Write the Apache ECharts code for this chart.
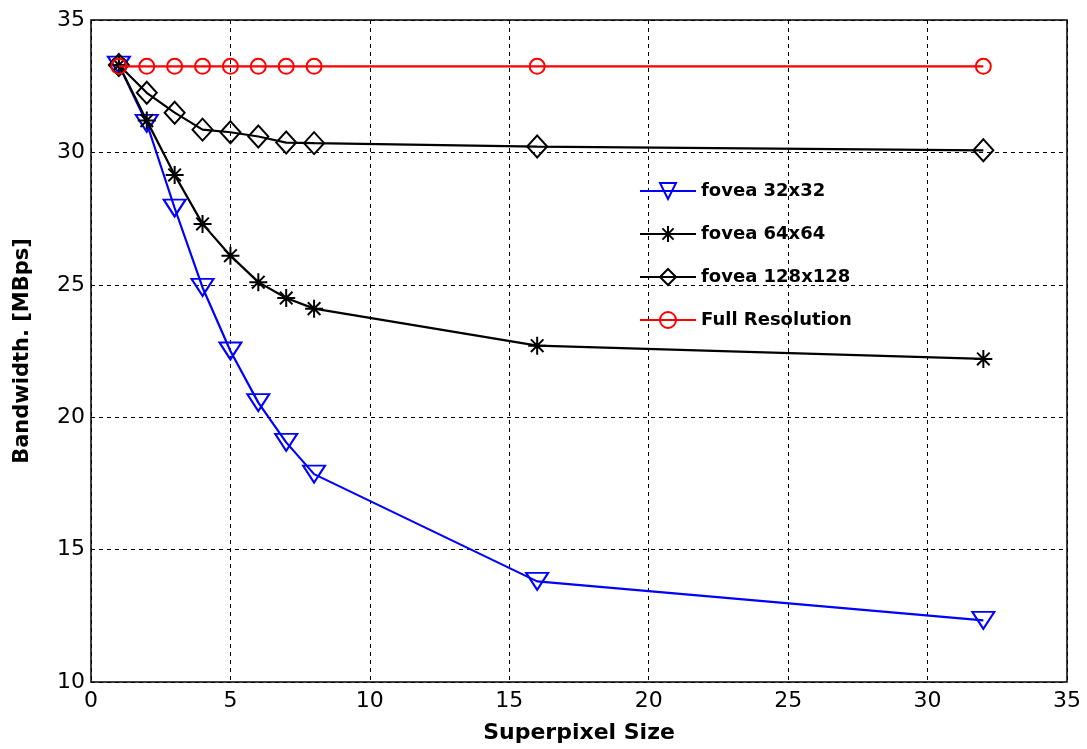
<!DOCTYPE html>
<html>
<head>
<meta charset="utf-8">
<script src="https://cdn.jsdelivr.net/npm/echarts@6/dist/echarts.min.js"></script>
<style>
html,body{margin:0;padding:0;background:#fff;}
#chart{width:1087px;height:749px;}
</style>
</head>
<body>
<div id="chart"></div>
<script>
const superpixel = [1, 2, 3, 4, 5, 6, 7, 8, 16, 32];
const fovea32 = [33.3, 31.1, 27.9, 24.9, 22.5, 20.55, 19.05, 17.85, 13.8, 12.33];
const fovea64 = [33.3, 31.2, 29.15, 27.3, 26.1, 25.1, 24.5, 24.1, 22.7, 22.2];
const fovea128 = [33.3, 32.25, 31.5, 30.86, 30.76, 30.6, 30.37, 30.35, 30.22, 30.08];
const fullRes = [33.25, 33.25, 33.25, 33.25, 33.25, 33.25, 33.25, 33.25, 33.25, 33.25];
const seriesNames = ['fovea 32x32', 'fovea 64x64', 'fovea 128x128', 'Full Resolution'];
const xTicks = {min: 0, max: 35, interval: 5};
const yTicks = {min: 10, max: 35, interval: 5};

const pairs = arr => superpixel.map((x, i) => [x, arr[i]]);
const star = 'path://M0,-10L0,10M-10,0L10,0M-7,-7L7,7M-7,7L7,-7';
const font = '"DejaVu Sans", "Liberation Sans", Arial, sans-serif';

const chart = echarts.init(document.getElementById('chart'));
chart.setOption({
  animation: false,
  backgroundColor: '#fff',
  grid: {left: 91, right: 20, top: 20, bottom: 65, show: true, borderColor: '#000', borderWidth: 1.5, backgroundColor: 'transparent'},
  legend: {
    orient: 'vertical', left: 634, top: 177, itemWidth: 56, itemHeight: 20, itemGap: 25,
    textStyle: {fontFamily: font, fontWeight: 'bold', fontSize: 18, color: '#000'},
    data: seriesNames
  },
  xAxis: {
    type: 'value', min: xTicks.min, max: xTicks.max, interval: xTicks.interval,
    name: 'Superpixel Size', nameLocation: 'middle', nameGap: 40,
    nameTextStyle: {fontFamily: font, fontWeight: 'bold', fontSize: 22, color: '#000'},
    axisLine: {show: false}, axisTick: {show: false},
    axisLabel: {fontFamily: font, fontSize: 22, color: '#000', margin: 8},
    splitLine: {show: true, lineStyle: {color: '#000', type: [4, 4], width: 1}}
  },
  yAxis: {
    type: 'value', min: yTicks.min, max: yTicks.max, interval: yTicks.interval,
    name: 'Bandwidth. [MBps]', nameLocation: 'middle', nameGap: 58, nameRotate: 90,
    nameTextStyle: {fontFamily: font, fontWeight: 'bold', fontSize: 21, color: '#000'},
    axisLine: {show: false}, axisTick: {show: false},
    axisLabel: {fontFamily: font, fontSize: 22, color: '#000', margin: 6},
    splitLine: {show: true, lineStyle: {color: '#000', type: [4, 4], width: 1}}
  },
  series: [
    {name: seriesNames[0], type: 'line', data: pairs(fovea32), symbol: 'triangle', symbolRotate: 180,
     symbolSize: [22, 17], lineStyle: {color: '#0000ff', width: 2.2},
     itemStyle: {color: 'rgba(0,0,0,0)', borderColor: '#0000ff', borderWidth: 2}, z: 2},
    {name: seriesNames[1], type: 'line', data: pairs(fovea64), symbol: star,
     symbolSize: 18, lineStyle: {color: '#000', width: 2.2},
     itemStyle: {color: 'rgba(0,0,0,0)', borderColor: '#000', borderWidth: 2}, z: 3},
    {name: seriesNames[2], type: 'line', data: pairs(fovea128), symbol: 'diamond',
     symbolSize: [20, 22], lineStyle: {color: '#000', width: 2.2},
     itemStyle: {color: 'rgba(0,0,0,0)', borderColor: '#000', borderWidth: 2}, z: 4},
    {name: seriesNames[3], type: 'line', data: pairs(fullRes), symbol: 'circle',
     symbolSize: 15, lineStyle: {color: '#ff0000', width: 2.2},
     itemStyle: {color: 'rgba(0,0,0,0)', borderColor: '#ff0000', borderWidth: 2}, z: 5}
  ]
});
</script>
</body>
</html>
